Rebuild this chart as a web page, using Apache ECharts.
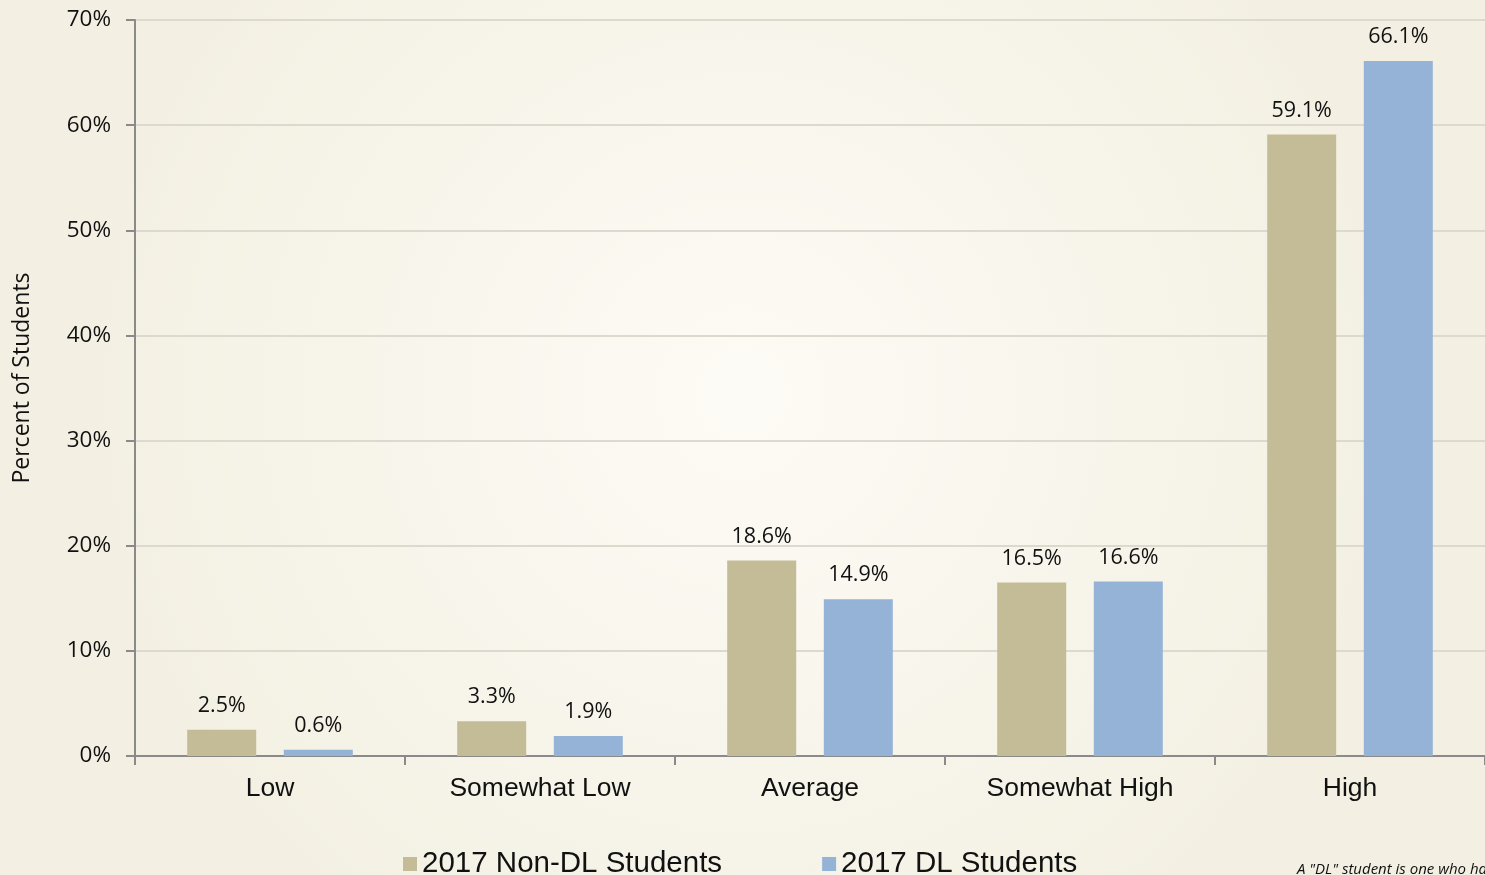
<!DOCTYPE html>
<html><head><meta charset="utf-8">
<script src="https://cdn.jsdelivr.net/npm/echarts@6/dist/echarts.min.js"></script>
<style>html,body{margin:0;padding:0;}#c{width:1485px;height:875px;}</style>
</head><body><div id="c"></div>
<script>
const categories = ['Low', 'Somewhat Low', 'Average', 'Somewhat High', 'High'];
const nonDL = [2.5, 3.3, 18.6, 16.5, 59.1];
const dl = [0.6, 1.9, 14.9, 16.6, 66.1];
const seriesNames = ['2017 Non-DL Students', '2017 DL Students'];
const yTicks = { min: 0, max: 70, interval: 10 };
const yAxisTitle = 'Percent of Students';
const footnote = 'A "DL" student is one who has taken at least one distance learning course.';

const chart = echarts.init(document.getElementById('c'));
const calibri = '"Open Sans", Lato, sans-serif';
const arial = '"Liberation Sans", Arial, sans-serif';
const labelCfg = {
  show: true, position: 'top', distance: 13,
  formatter: p => p.value.toFixed(1) + '%',
  fontFamily: calibri, fontSize: 21.5, color: '#111'
};
chart.setOption({
  backgroundColor: {
    type: 'radial', x: 0.5, y: 0.45, r: 0.75,
    colorStops: [{offset: 0, color: '#fdfbf5'}, {offset: 1, color: '#f3f0e3'}]
  },
  animation: false,
  grid: { left: 135, right: 0, top: 20, height: 736 },
  legend: {
    left: 398, top: 844, itemWidth: 14, itemHeight: 14, itemGap: 100,
    icon: 'rect',
    textStyle: { fontFamily: arial, fontSize: 29.5, color: '#111' },
    data: seriesNames
  },
  xAxis: {
    type: 'category', data: categories,
    axisLine: { lineStyle: { color: '#8a8a8a', width: 2 } },
    axisTick: { show: true, length: 9, lineStyle: { color: '#8a8a8a', width: 2 } },
    axisLabel: { margin: 19, fontFamily: arial, fontSize: 26.5, color: '#111' }
  },
  yAxis: {
    type: 'value', min: yTicks.min, max: yTicks.max, interval: yTicks.interval,
    axisLine: { show: true, lineStyle: { color: '#8a8a8a', width: 2 } },
    axisTick: { show: true, length: 9, lineStyle: { color: '#8a8a8a', width: 2 } },
    axisLabel: { margin: 24, formatter: '{value}%', fontFamily: calibri, fontSize: 22.5, color: '#111' },
    splitLine: { lineStyle: { color: '#dcd9cf', width: 2 } }
  },
  series: [
    { name: seriesNames[0], type: 'bar', data: nonDL, barWidth: 69, barGap: '40%',
      itemStyle: { color: '#c4bc96' }, label: labelCfg },
    { name: seriesNames[1], type: 'bar', data: dl, barWidth: 69, barGap: '40%',
      itemStyle: { color: '#95b3d7' }, label: labelCfg }
  ],
  graphic: [{
    type: 'text', x: 22, y: 378, rotation: Math.PI / 2,
    style: { text: yAxisTitle, fontFamily: calibri, fontSize: 23, fill: '#111', align: 'center', verticalAlign: 'middle' }
  }, {
    type: 'text', left: 1297, top: 862,
    style: { text: footnote, fontFamily: calibri, fontStyle: 'italic', fontSize: 15, fill: '#111' }
  }]
});
</script></body></html>
